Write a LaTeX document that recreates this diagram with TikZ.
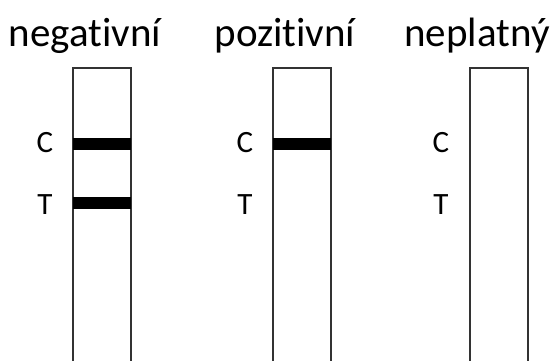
\documentclass[tikz,border=0pt]{standalone}
\usepackage{fontspec}
\setmainfont{Carlito}[Ligatures=NoCommon]
\usetikzlibrary{positioning}
\begin{document}
\begin{tikzpicture}[x=1pt, y=-1pt,
		strip/.style = {draw=black!80, line width=2pt, minimum width=58pt, minimum height=330pt, anchor=north, inner sep=0pt},
		band/.style = {fill=black, minimum width=58pt, minimum height=12pt, inner sep=0pt},
		head/.style = {font=\fontsize{41}{44}\selectfont, anchor=base},
		letter/.style = {font=\fontsize{31}{34}\selectfont}]
			\useasboundingbox (0,0) rectangle (553,360);
			\clip (0,0) rectangle (553,360);
			\node[head] (tneg) at (85,46) {negativní};
			\node[head] (tpoz) at (285,46) {pozitivní};
			\node[head] (tnep) at (477,46) {neplatný};
			\node[strip] (neg) at (102,67) {};
			\node[strip] (poz) at (302,67) {};
			\node[strip] (nep) at (499,67) {};
			\node[band] (negC) at (102,143.5) {};
			\node[band] (negT) at (102,202.5) {};
			\node[band] (pozC) at (302,143.5) {};
			\foreach \s/\x in {neg/45, poz/245, nep/441}
			{
				\node[letter] (\s Cl) at (\x,143) {C};
				\node[letter] (\s Tl) at (\x,205) {T};
			}
			\end{tikzpicture}
\end{document}
